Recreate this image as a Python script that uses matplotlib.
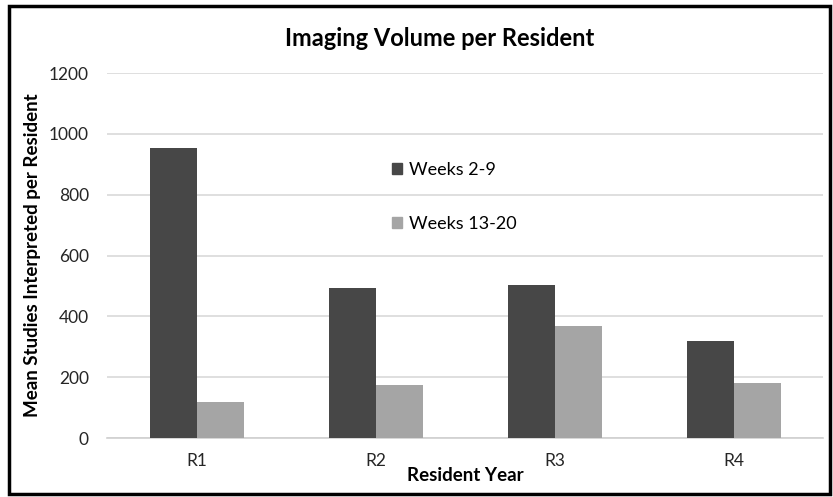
import matplotlib
matplotlib.use("Agg")
import matplotlib.pyplot as plt
import matplotlib.patches as mpatches
import numpy as np

# data
years = ["R1", "R2", "R3", "R4"]
weeks_2_9 = [955, 494, 503, 320]
weeks_13_20 = [120, 174, 368, 180]
y_ticks = [0, 200, 400, 600, 800, 1000, 1200]

dark = "#474747"
light = "#a5a5a5"

plt.rcParams["font.family"] = ["Lato", "DejaVu Sans"]

fig = plt.figure(figsize=(8.33, 4.97), dpi=100)
ax = fig.add_axes([0.1285, 0.1187, 0.8595, 0.7343])

x = np.arange(len(years))
w = 0.2626
ax.bar(x - w / 2, weeks_2_9, w, color=dark, zorder=3, label="Weeks 2-9")
ax.bar(x + w / 2, weeks_13_20, w, color=light, zorder=3, label="Weeks 13-20")

ax.set_xlim(-0.5, 3.5)
ax.set_ylim(0, 1200)
ax.set_yticks(y_ticks)
ax.set_xticks(x)
ax.set_xticklabels(years)
ax.tick_params(length=0, labelsize=12.5, labelcolor="#262626")
ax.tick_params(axis="x", pad=11)
ax.tick_params(axis="y", pad=13)
ax.grid(axis="y", color="#d9d9d9", lw=1.2, zorder=0)
for s in ["top", "right", "left"]:
    ax.spines[s].set_visible(False)
ax.spines["bottom"].set_color("#d0d0d0")
ax.spines["bottom"].set_linewidth(1.2)

ax.set_ylabel("Mean Studies Interpreted per Resident", fontsize=13.5,
              fontweight="bold", color="black", labelpad=6)
ax.set_xlabel("Resident Year", fontsize=13.5, fontweight="bold",
              color="black", labelpad=-2)

fig.text(0.528, 0.923, "Imaging Volume per Resident", ha="center", va="center",
         fontsize=17, fontweight="bold", color="black")

handles = [mpatches.Patch(color=dark), mpatches.Patch(color=light)]
ax.legend(handles, ["Weeks 2-9", "Weeks 13-20"], loc="upper left",
          bbox_to_anchor=(0.375, 0.80), frameon=False, fontsize=13,
          handlelength=0.55, handleheight=0.55, handletextpad=0.4,
          labelspacing=2.1, labelcolor="black")

# outer border of the chart
fig.patches.append(mpatches.Rectangle((0.011, 0.006), 0.985, 0.982,
                                      transform=fig.transFigure, fill=False,
                                      edgecolor="black", lw=2.5))

fig.savefig("out.png", dpi=100)
